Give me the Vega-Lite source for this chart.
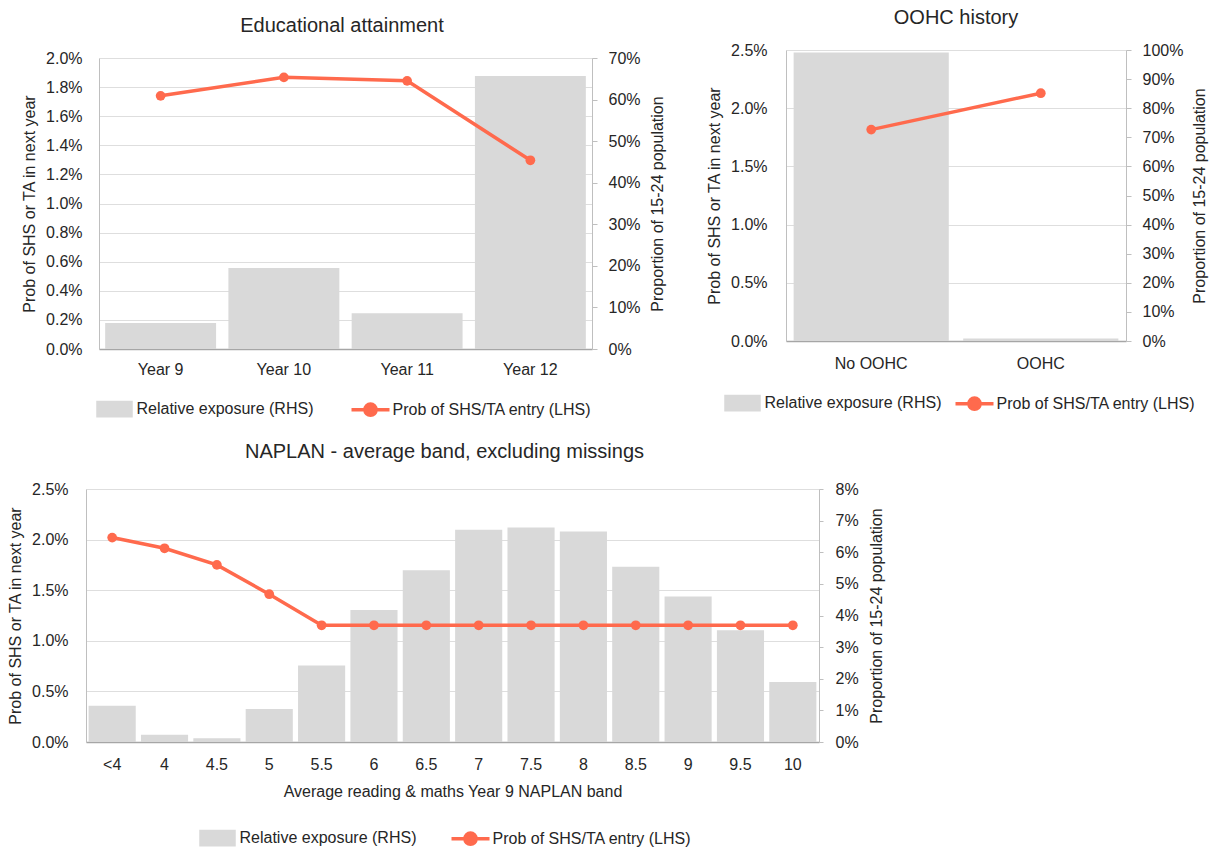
{
  "$schema": "https://vega.github.io/schema/vega-lite/v6.json",
  "background": "white",
  "padding": {"left": 7, "top": 8, "right": 5, "bottom": 5},
  "spacing": 19,
  "resolve": {"scale": {"x": "independent", "y": "independent", "color": "independent"}, "legend": {"color": "independent"}},
  "config": {
    "font": "Liberation Sans",
    "view": {"stroke": null},
    "title": {"fontSize": 20, "fontWeight": "normal", "color": "#262626", "frame": "group", "anchor": "middle", "font": "Liberation Sans"},
    "axis": {"labelFont": "Liberation Sans", "labelFontSize": 16, "labelColor": "#262626", "titleFont": "Liberation Sans", "titleFontSize": 16, "titleFontWeight": "normal", "titleColor": "#262626", "gridColor": "#dedede", "gridWidth": 1.2, "domainColor": "#bfbfbf", "tickColor": "#bfbfbf"},
    "legend": {"labelFont": "Liberation Sans", "labelFontSize": 16, "labelColor": "#262626", "padding": 0, "labelLimit": 0}
  },
  "vconcat": [
    {
      "spacing": 40,
      "resolve": {"scale": {"x": "independent", "y": "independent", "color": "independent"}, "legend": {"color": "independent"}},
      "hconcat": [
        {
          "width": 506,
          "height": 299,
          "title": {"text": "Educational attainment", "offset": 14, "dx": 3},
          "data": {"values": [
            {"cat": "Year 9", "prob": 0.0174, "exp": 0.0627},
            {"cat": "Year 10", "prob": 0.01867, "exp": 0.195},
            {"cat": "Year 11", "prob": 0.01843, "exp": 0.086},
            {"cat": "Year 12", "prob": 0.01297, "exp": 0.657}
          ]},
          "encoding": {
            "x": {"field": "cat", "type": "ordinal", "sort": null, "scale": {"paddingInner": 0.1, "paddingOuter": 0.05, "range": [13, 506]},
              "axis": {"title": null, "labelAngle": 0, "ticks": false, "labelPadding": 12, "domainColor": "#a6a6a6", "domainWidth": 1.5, "grid": false}}
          },
          "layer": [
            {
              "mark": {"type": "bar"},
              "encoding": {
                "y": {"field": "exp", "type": "quantitative", "scale": {"domain": [0, 0.7], "nice": false, "range": [299, 8]},
                  "axis": {"orient": "right", "title": "Proportion of 15-24 population", "format": ".0%", "values": [0, 0.1, 0.2, 0.3, 0.4, 0.5, 0.6, 0.7], "grid": false, "ticks": true, "tickSize": 5, "labelPadding": 11, "titlePadding": 9, "titleAngle": 270, "titleBaseline": "top"}},
                "color": {"datum": "Relative exposure (RHS)", "type": "nominal",
                  "scale": {"domain": ["Relative exposure (RHS)", "Prob of SHS/TA entry (LHS)"], "range": ["#d9d9d9", "#ff6a4d"]},
                  "legend": {"orient": "none", "legendX": 6.5, "legendY": 337, "direction": "horizontal", "title": null, "symbolSize": 1600, "labelOffset": 0, "columnPadding": 31,
                    "encode": {"symbols": {"update": {
                      "shape": {"signal": "datum.value === 'Relative exposure (RHS)' ? 'M-0.825,-0.33H0.825V0.33H-0.825Z' : 'M-0.95,0H0.95M-0.28,0A0.28,0.28 0 1,0 0.28,0A0.28,0.28 0 1,0 -0.28,0Z'"},
                      "fill": {"signal": "datum.value === 'Relative exposure (RHS)' ? '#d9d9d9' : '#ff6a4d'"},
                      "stroke": {"signal": "datum.value === 'Relative exposure (RHS)' ? 'transparent' : '#ff6a4d'"},
                      "strokeWidth": {"value": 3.5},
                      "opacity": {"value": 1},
                      "fillOpacity": {"value": 1},
                      "size": {"value": 1600}
                    }}}}}
              }
            },
            {
              "mark": {"type": "line", "strokeWidth": 3.5, "point": {"filled": true, "size": 95}},
              "encoding": {
                "y": {"field": "prob", "type": "quantitative", "scale": {"domain": [0, 0.02], "nice": false, "range": [299, 8]},
                  "axis": {"orient": "left", "offset": -13, "title": "Prob of SHS or TA in next year", "format": ".1%", "values": [0, 0.002, 0.004, 0.006, 0.008, 0.01, 0.012, 0.014, 0.016, 0.018, 0.02], "grid": true, "ticks": false, "labelPadding": 17, "titlePadding": 8}},
                "color": {"datum": "Prob of SHS/TA entry (LHS)", "type": "nominal"}
              }
            }
          ],
          "resolve": {"scale": {"y": "independent"}}
        },
        {
          "width": 340,
          "height": 291,
          "title": {"text": "OOHC history", "offset": 14},
          "data": {"values": [
            {"cat": "No OOHC", "prob": 0.01816, "exp": 0.991},
            {"cat": "OOHC", "prob": 0.02129, "exp": 0.009}
          ]},
          "encoding": {
            "x": {"field": "cat", "type": "ordinal", "sort": null, "scale": {"paddingInner": 0.085, "paddingOuter": 0.045},
              "axis": {"title": null, "labelAngle": 0, "ticks": false, "labelPadding": 14, "domainColor": "#a6a6a6", "domainWidth": 1.5, "grid": false}}
          },
          "layer": [
            {
              "mark": {"type": "bar"},
              "encoding": {
                "y": {"field": "exp", "type": "quantitative", "scale": {"domain": [0, 1], "nice": false},
                  "axis": {"orient": "right", "title": "Proportion of 15-24 population", "format": ".0%", "values": [0, 0.1, 0.2, 0.3, 0.4, 0.5, 0.6, 0.7, 0.8, 0.9, 1], "grid": false, "ticks": true, "tickSize": 5, "labelPadding": 11, "titlePadding": 9, "titleAngle": 270, "titleBaseline": "top"}},
                "color": {"datum": "Relative exposure (RHS)", "type": "nominal",
                  "scale": {"domain": ["Relative exposure (RHS)", "Prob of SHS/TA entry (LHS)"], "range": ["#d9d9d9", "#ff6a4d"]},
                  "legend": {"orient": "none", "legendX": -65.5, "legendY": 331, "direction": "horizontal", "title": null, "symbolSize": 1600, "labelOffset": 0, "columnPadding": 7,
                    "encode": {"symbols": {"update": {
                      "shape": {"signal": "datum.value === 'Relative exposure (RHS)' ? 'M-0.825,-0.33H0.825V0.33H-0.825Z' : 'M-0.95,0H0.95M-0.28,0A0.28,0.28 0 1,0 0.28,0A0.28,0.28 0 1,0 -0.28,0Z'"},
                      "fill": {"signal": "datum.value === 'Relative exposure (RHS)' ? '#d9d9d9' : '#ff6a4d'"},
                      "stroke": {"signal": "datum.value === 'Relative exposure (RHS)' ? 'transparent' : '#ff6a4d'"},
                      "strokeWidth": {"value": 3.5},
                      "opacity": {"value": 1},
                      "fillOpacity": {"value": 1},
                      "size": {"value": 1600}
                    }}}}}
              }
            },
            {
              "mark": {"type": "line", "strokeWidth": 3.5, "point": {"filled": true, "size": 95}},
              "encoding": {
                "y": {"field": "prob", "type": "quantitative", "scale": {"domain": [0, 0.025], "nice": false},
                  "axis": {"orient": "left", "title": "Prob of SHS or TA in next year", "format": ".1%", "values": [0, 0.005, 0.01, 0.015, 0.02, 0.025], "grid": true, "ticks": false, "labelPadding": 19, "titlePadding": 8}},
                "color": {"datum": "Prob of SHS/TA entry (LHS)", "type": "nominal"}
              }
            }
          ],
          "resolve": {"scale": {"y": "independent"}}
        }
      ]
    },
    {
      "width": 733,
      "height": 253,
      "title": {"text": "NAPLAN - average band, excluding missings", "offset": 19, "dx": -8},
      "data": {"values": [
        {"cat": "<4", "prob": 0.0202, "exp": 0.0115},
        {"cat": "4", "prob": 0.01914, "exp": 0.0023},
        {"cat": "4.5", "prob": 0.0175, "exp": 0.0012},
        {"cat": "5", "prob": 0.0146, "exp": 0.0104},
        {"cat": "5.5", "prob": 0.01153, "exp": 0.0242},
        {"cat": "6", "prob": 0.01153, "exp": 0.0417},
        {"cat": "6.5", "prob": 0.01153, "exp": 0.0543},
        {"cat": "7", "prob": 0.01153, "exp": 0.0671},
        {"cat": "7.5", "prob": 0.01153, "exp": 0.0678},
        {"cat": "8", "prob": 0.01153, "exp": 0.0666},
        {"cat": "8.5", "prob": 0.01153, "exp": 0.0554},
        {"cat": "9", "prob": 0.01153, "exp": 0.046},
        {"cat": "9.5", "prob": 0.01153, "exp": 0.0353},
        {"cat": "10", "prob": 0.01153, "exp": 0.019}
      ]},
      "encoding": {
        "x": {"field": "cat", "type": "ordinal", "sort": null, "scale": {"paddingInner": 0.1, "paddingOuter": 0.05},
          "axis": {"title": "Average reading & maths Year 9 NAPLAN band", "labelAngle": 0, "ticks": false, "labelPadding": 14, "titlePadding": 11, "domainColor": "#a6a6a6", "domainWidth": 1.5, "grid": false}}
      },
      "layer": [
        {
          "mark": {"type": "bar"},
          "encoding": {
            "y": {"field": "exp", "type": "quantitative", "scale": {"domain": [0, 0.08], "nice": false},
              "axis": {"orient": "right", "title": "Proportion of 15-24 population", "format": ".0%", "values": [0, 0.01, 0.02, 0.03, 0.04, 0.05, 0.06, 0.07, 0.08], "grid": false, "ticks": true, "tickSize": 4, "labelPadding": 12, "titlePadding": 10, "titleAngle": 270, "titleBaseline": "top"}},
            "color": {"datum": "Relative exposure (RHS)", "type": "nominal",
              "scale": {"domain": ["Relative exposure (RHS)", "Prob of SHS/TA entry (LHS)"], "range": ["#d9d9d9", "#ff6a4d"]},
              "legend": {"orient": "none", "legendX": 109.5, "legendY": 327, "direction": "horizontal", "title": null, "symbolSize": 1600, "labelOffset": 0, "columnPadding": 28,
                "encode": {"symbols": {"update": {
                  "shape": {"signal": "datum.value === 'Relative exposure (RHS)' ? 'M-0.825,-0.33H0.825V0.33H-0.825Z' : 'M-0.95,0H0.95M-0.28,0A0.28,0.28 0 1,0 0.28,0A0.28,0.28 0 1,0 -0.28,0Z'"},
                  "fill": {"signal": "datum.value === 'Relative exposure (RHS)' ? '#d9d9d9' : '#ff6a4d'"},
                  "stroke": {"signal": "datum.value === 'Relative exposure (RHS)' ? 'transparent' : '#ff6a4d'"},
                  "strokeWidth": {"value": 3.5},
                  "opacity": {"value": 1},
                  "fillOpacity": {"value": 1},
                  "size": {"value": 1600}
                }}}}}
          }
        },
        {
          "mark": {"type": "line", "strokeWidth": 3.5, "point": {"filled": true, "size": 95}},
          "encoding": {
            "y": {"field": "prob", "type": "quantitative", "scale": {"domain": [0, 0.025], "nice": false},
              "axis": {"orient": "left", "title": "Prob of SHS or TA in next year", "format": ".1%", "values": [0, 0.005, 0.01, 0.015, 0.02, 0.025], "grid": true, "ticks": false, "labelPadding": 18, "titlePadding": 8}},
            "color": {"datum": "Prob of SHS/TA entry (LHS)", "type": "nominal"}
          }
        }
      ],
      "resolve": {"scale": {"y": "independent"}}
    }
  ]
}
